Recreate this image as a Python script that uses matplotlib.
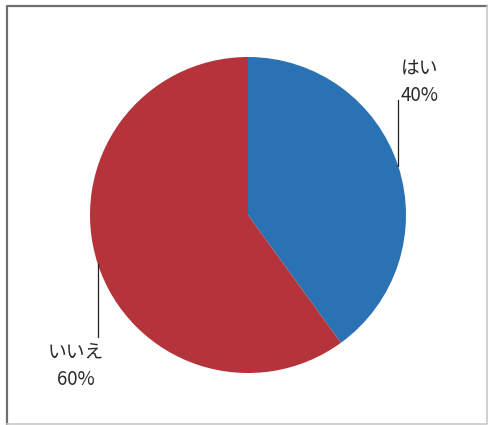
import numpy as np
import matplotlib.pyplot as plt
from matplotlib.lines import Line2D

plt.rcParams['font.family'] = ['Noto Sans CJK JP', 'DejaVu Sans']

# データ
labels = ['はい', 'いいえ']
values = [40, 60]
colors = ['#2a72b3', '#b5333a']

W, H = 488, 425
cx, cy, r = 248, 215, 158   # 円の中心と半径(ピクセル)

fig = plt.figure(figsize=(W / 100, H / 100), dpi=100)
ax = fig.add_axes([0, 0, 1, 1])

wedges, _ = ax.pie(values, colors=colors, startangle=90, counterclock=False,
                   radius=1, wedgeprops=dict(linewidth=0))

ax.set_xlim(-cx / r, (W - cx) / r)
ax.set_ylim((cy - H) / r, cy / r)
ax.set_aspect('auto')
ax.axis('off')

# ラベルと引き出し線
total = sum(values)
# (線の終点の高さ, テキスト中心のx, テキスト中心のy) ピクセル
label_pos = [(100, 420, 82), (337, 76, 366)]
for w, lab, v, (ly, tx, ty) in zip(wedges, labels, values, label_pos):
    ang = np.deg2rad((w.theta1 + w.theta2) / 2)
    x0, y0 = np.cos(ang), np.sin(ang)
    y1 = (cy - ly) / r
    ax.plot([x0, x0], [y0, y1], color='#222222', lw=0.9)
    ax.text((tx - cx) / r, (cy - ty) / r, f'{lab}\n{v / total * 100:.0f}%',
            ha='center', va='center', fontsize=13.5, color='#2a2a2a',
            linespacing=1.4)

# 枠線 (左・上は濃く、右・下は薄く)
x0f, x1f = 7 / W, 487 / W
y0f, y1f = 1 - 424 / H, 1 - 6 / H
fig.lines.append(Line2D([x0f, x0f, x1f], [y0f, y1f, y1f], transform=fig.transFigure,
                        color='#6f6f6f', lw=1.6))
fig.lines.append(Line2D([x0f, x1f, x1f], [y0f, y0f, y1f], transform=fig.transFigure,
                        color='#c8c8c8', lw=1.2))

fig.savefig('out.png', dpi=100)
